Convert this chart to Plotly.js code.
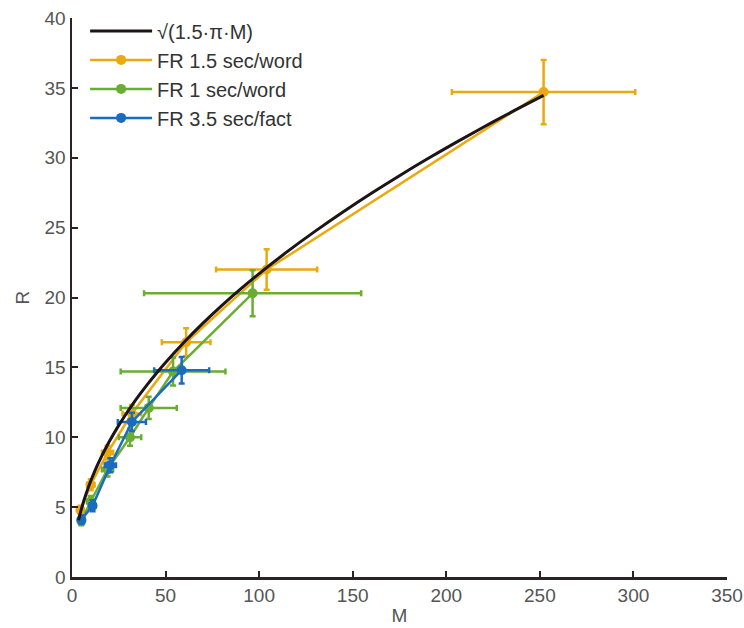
<!DOCTYPE html>
<html>
<head>
<meta charset="utf-8">
<script src="https://cdn.plot.ly/plotly-3.0.1.min.js"></script>
<style>
  html, body { margin: 0; padding: 0; background: #fff; }
  #chart { width: 744px; height: 628px; }
</style>
</head>
<body>
<div id="chart"></div>
<script>
// Free recall at 1.5 sec/word
const m_fr15 = [4.5, 10, 19, 32, 61, 104, 252];
const r_fr15 = [4.8, 6.6, 8.9, 11.7, 16.8, 22.0, 34.7];
const m_fr15_err = [1, 2, 3, 5, 13, 27, 49];
const r_fr15_err = [0.3, 0.4, 0.5, 0.6, 1.0, 1.45, 2.3];

// Free recall at 1 sec/word
const m_fr1 = [5, 10, 19, 31, 41, 54, 96.5];
const r_fr1 = [4.0, 5.4, 7.7, 10.0, 12.1, 14.7, 20.3];
const m_fr1_err = [1, 2, 3, 6, 15, 28, 58];
const r_fr1_err = [0.3, 0.4, 0.5, 0.6, 0.8, 1.0, 1.65];

// Free recall of facts at 3.5 sec/fact
const m_fact = [5, 11, 20.5, 32, 58.6];
const r_fact = [4.1, 5.1, 8.0, 11.1, 14.8];
const m_fact_err = [1, 1.5, 3, 7.5, 14.7];
const r_fact_err = [0.3, 0.4, 0.5, 0.65, 0.95];

// Theory curve R = sqrt(1.5·π·M), sampled over M
const m_theory = [3.5, 4, 5, 6, 7, 8, 10, 12, 14, 16, 18, 20, 24, 28, 32, 36, 40, 45, 50, 60, 70, 80, 90,
                  100, 115, 130, 145, 160, 175, 190, 205, 220, 235, 252];
const r_theory = m_theory.map(m => Math.sqrt(1.5 * Math.PI * m));

const axisColor = '#2a2224';
const baseFont = 'Liberation Sans, Arial, Helvetica, sans-serif';
const tickFont = { family: baseFont, size: 19, color: '#555' };

function series(name, x, y, ex, ey, color, rank) {
  return {
    type: 'scatter', mode: 'lines+markers', name: name,
    x: x, y: y, legendrank: rank,
    line: { color: color, width: 2.5 },
    marker: { color: color, size: 10, symbol: 'circle' },
    error_x: { type: 'data', array: ex, visible: true, color: color, thickness: 2.5, width: 3 },
    error_y: { type: 'data', array: ey, visible: true, color: color, thickness: 2.5, width: 3 }
  };
}

const traces = [
  series('FR 1.5 sec/word', m_fr15, r_fr15, m_fr15_err, r_fr15_err, '#EAA90F', 2),
  series('FR 1 sec/word', m_fr1, r_fr1, m_fr1_err, r_fr1_err, '#6AAD35', 3),
  series('FR 3.5 sec/fact', m_fact, r_fact, m_fact_err, r_fact_err, '#1A6CC0', 4),
  {
    type: 'scatter', mode: 'lines', name: '√(1.5·π·M)',
    x: m_theory, y: r_theory, legendrank: 1,
    line: { color: '#1c1415', width: 3, shape: 'spline' }
  }
];

const layout = {
  width: 744, height: 628,
  margin: { l: 72, r: 17, t: 17, b: 51 },
  paper_bgcolor: '#fff', plot_bgcolor: '#fff',
  font: { family: baseFont, color: '#444' },
  showlegend: true,
  legend: {
    x: 0.02, y: 1.01, xanchor: 'left', yanchor: 'top',
    bgcolor: 'rgba(0,0,0,0)',
    font: { family: baseFont, size: 20, color: '#333' },
    itemwidth: 62, tracegroupgap: 0
  },
  xaxis: {
    range: [0, 350], tickvals: [0, 50, 100, 150, 200, 250, 300, 350],
    showgrid: false, zeroline: false,
    showline: true, linecolor: axisColor, linewidth: 2.5,
    ticks: 'inside', ticklen: 6, tickwidth: 2, tickcolor: axisColor,
    tickfont: tickFont,
    title: { text: 'M', font: { family: baseFont, size: 19, color: '#555' }, standoff: 4 }
  },
  yaxis: {
    range: [0, 40], tickvals: [0, 5, 10, 15, 20, 25, 30, 35, 40],
    showgrid: false, zeroline: false,
    showline: true, linecolor: axisColor, linewidth: 2.5,
    ticks: 'inside', ticklen: 6, tickwidth: 2, tickcolor: axisColor,
    tickfont: tickFont,
    title: { text: 'R', font: { family: baseFont, size: 19, color: '#555' }, standoff: 10 }
  }
};

Plotly.newPlot('chart', traces, layout, { displayModeBar: false, staticPlot: true });
</script>
</body>
</html>
